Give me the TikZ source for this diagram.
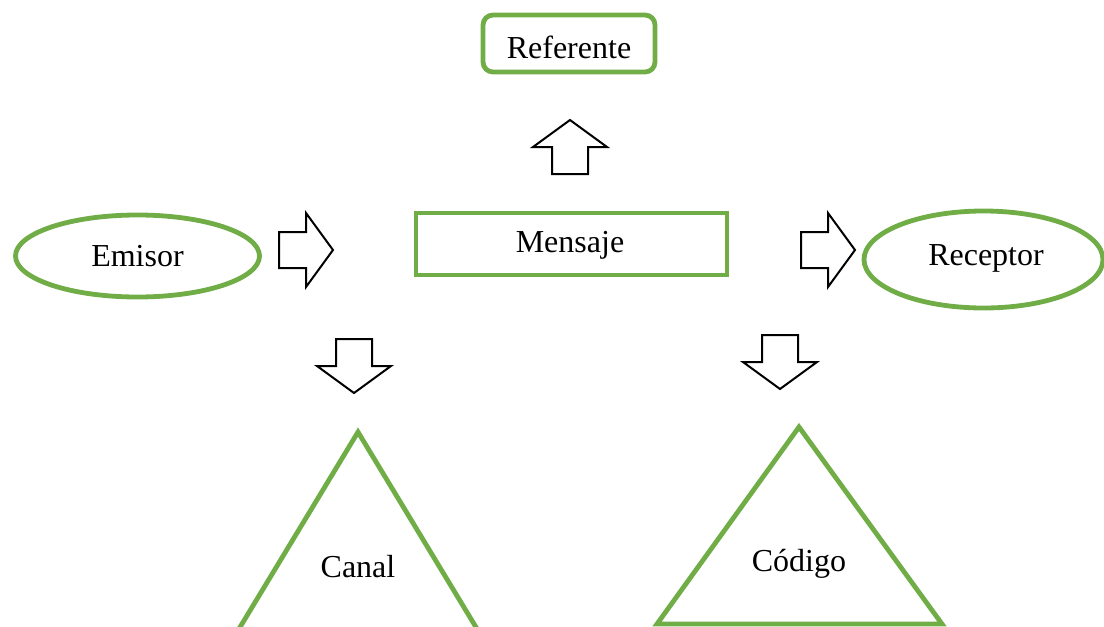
\documentclass[tikz,border=0pt]{standalone}
\usepackage{fontspec}
\setmainfont{Liberation Serif}
\usetikzlibrary{shapes.geometric}
\definecolor{leafgreen}{RGB}{112,173,71}
\tikzset{
  greenline/.style={draw=leafgreen,line width=2.4pt},
  ovalbox/.style={greenline,ellipse,inner sep=0pt},
  flatbox/.style={greenline,rectangle,inner sep=0pt},
  pics/fatarrow/.style={code={
    \draw[line width=1pt,fill=white,line join=miter]
      (0,-18)--(27,-18)--(27,-37)--(54,0)--(27,37)--(27,18)--(0,18)--cycle;}}
}
\begin{document}
\begin{tikzpicture}[x=0.5pt,y=-0.5pt,every node/.style={font=\fontsize{16}{19}\selectfont}]
\useasboundingbox (0,0) rectangle (1104,627);
\clip (0,0) rectangle (1104,627);
% boxes
\node[flatbox,rounded corners=5pt,minimum width=86pt,minimum height=28.5pt] (referente) at (569,43.5) {};
\node at (569,47) {Referente};
\node[flatbox,minimum width=155.5pt,minimum height=31pt] (mensaje) at (571.5,244) {};
\node at (570,245) {Mensaje};
\node[ovalbox,minimum width=122pt,minimum height=41pt] (emisor) at (137.5,256) {Emisor};
\node[ovalbox,minimum width=119.5pt,minimum height=48.5pt] (receptor) at (983.5,259.5) {};
\node at (986,258) {Receptor};
% triangles
\draw[greenline,line join=miter] (196,700)--(358,432)--(520,700);
\node (canal) at (358,567) {Canal};
\draw[greenline,line join=miter] (657,624)--(799,427)--(942,624)--cycle;
\node (codigo) at (799,564) {Código};
% block arrows
\pic[rotate=90] at (570,174) {fatarrow};
\pic at (279,250) {fatarrow};
\pic at (801,250) {fatarrow};
\pic[rotate=-90] at (354,339) {fatarrow};
\pic[rotate=-90] at (780,335) {fatarrow};
\end{tikzpicture}
\end{document}
